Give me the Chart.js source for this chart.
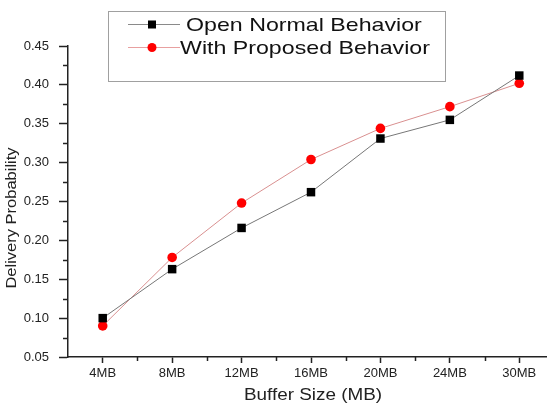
<!DOCTYPE html>
<html>
<head>
<meta charset="utf-8">
<script src="https://cdn.jsdelivr.net/npm/chart.js@4"></script>
<style>
    html, body { margin: 0; padding: 0; overflow: hidden; background: #fff; }
    canvas { display: block; }
</style>
</head>
<body>
<canvas id="deliveryChart" width="560" height="414"></canvas>
<script>
// chart values
const bufferSizes = ['4MB', '8MB', '12MB', '16MB', '20MB', '24MB', '30MB'];
const openNormal = [0.100, 0.163, 0.216, 0.262, 0.331, 0.355, 0.412];
const proposed = [0.090, 0.178, 0.248, 0.304, 0.344, 0.372, 0.402];
const seriesNames = ['Open Normal Behavior', 'With Proposed Behavior'];
const yMin = 0.05, yMax = 0.45, yStep = 0.05;
const xTitle = 'Buffer Size (MB)';
const yTitle = 'Delivery Probability';

const FONT = '"Liberation Sans", Arial, sans-serif';

// minor ticks, axis titles and the boxed legend are drawn by hand
const extrasPlugin = {
    id: 'extras',
    afterDraw(chart) {
        const ctx = chart.ctx;
        const x = chart.scales.x;
        const y = chart.scales.y;
        const area = chart.chartArea;

        ctx.save();
        ctx.strokeStyle = '#222';
        ctx.lineWidth = 1.5;
        // minor ticks on y
        for (let v = yMin + yStep / 2; v < yMax; v += yStep) {
            const py = Math.round(y.getPixelForValue(v)) + 0.5;
            ctx.beginPath();
            ctx.moveTo(area.left - 5, py);
            ctx.lineTo(area.left, py);
            ctx.stroke();
        }
        // minor ticks on x, between categories
        for (let i = 0; i <= bufferSizes.length; i++) {
            const px = Math.round(x.getPixelForValue(i - 0.5)) + 0.5;
            if (px <= area.left + 2) continue;
            ctx.beginPath();
            ctx.moveTo(px, area.bottom);
            ctx.lineTo(px, area.bottom + 4);
            ctx.stroke();
        }

        // axis titles (slightly wide lettering, as in the original)
        ctx.fillStyle = '#222';
        ctx.textAlign = 'center';
        ctx.textBaseline = 'middle';
        ctx.font = '16px ' + FONT;
        ctx.save();
        ctx.translate(313, 396);
        ctx.scale(1.18, 1);
        ctx.fillText(xTitle, 0, 0);
        ctx.restore();

        ctx.font = '15px ' + FONT;
        ctx.save();
        ctx.translate(12, 218);
        ctx.rotate(-Math.PI / 2);
        ctx.scale(1.1, 1);
        ctx.fillText(yTitle, 0, 0);
        ctx.restore();

        // legend box
        ctx.fillStyle = '#fff';
        ctx.fillRect(108, 11, 337, 70);
        ctx.strokeStyle = '#a0a0a0';
        ctx.lineWidth = 1;
        ctx.strokeRect(108.5, 11.5, 337, 70);

        const rows = [
            { y: 24.5, line: '#8a8a8a', textX: 186 },
            { y: 47.5, line: '#e8a0a0', textX: 180 }
        ];
        chart.data.datasets.forEach((ds, i) => {
            const r = rows[i];
            ctx.strokeStyle = r.line;
            ctx.lineWidth = 1;
            ctx.beginPath();
            ctx.moveTo(128, r.y);
            ctx.lineTo(180, r.y);
            ctx.stroke();
            ctx.fillStyle = ds.pointBackgroundColor;
            if (ds.pointStyle === 'rect') {
                ctx.fillRect(148, r.y - 4, 8, 8);
            } else {
                ctx.beginPath();
                ctx.arc(152, r.y, 4.5, 0, Math.PI * 2);
                ctx.fill();
            }
            ctx.fillStyle = '#111';
            ctx.textAlign = 'left';
            ctx.textBaseline = 'middle';
            ctx.font = '19px ' + FONT;
            ctx.save();
            ctx.translate(r.textX, r.y + 1);
            ctx.scale(1.22, 1);
            ctx.fillText(ds.label, 0, 0);
            ctx.restore();
        });
        ctx.restore();
    }
};

const ctx = document.getElementById('deliveryChart').getContext('2d');
new Chart(ctx, {
    type: 'line',
    data: {
        labels: bufferSizes,
        datasets: [{
            label: seriesNames[0],
            data: openNormal,
            borderColor: '#777',
            borderWidth: 1,
            pointStyle: 'rect',
            pointRadius: 6,
            pointBackgroundColor: '#000',
            pointBorderColor: '#000',
            pointBorderWidth: 0,
            tension: 0
        }, {
            label: seriesNames[1],
            data: proposed,
            borderColor: '#d99090',
            borderWidth: 1,
            pointStyle: 'circle',
            pointRadius: 4.8,
            pointBackgroundColor: '#f00',
            pointBorderColor: '#f00',
            pointBorderWidth: 0,
            tension: 0
        }]
    },
    options: {
        responsive: false,
        animation: false,
        layout: { padding: { top: 46, right: 2, left: 0, bottom: 0 } },
        plugins: {
            legend: { display: false },
            tooltip: { enabled: false }
        },
        scales: {
            x: {
                type: 'category',
                offset: true,
                afterFit: function (scale) { scale.height = 57; },
                border: { color: '#222', width: 1.5 },
                grid: { drawOnChartArea: false, tickLength: 6, tickColor: '#222', tickWidth: 1.5 },
                ticks: {
                    color: '#222',
                    padding: 3,
                    maxRotation: 0,
                    font: { family: FONT, size: 13 }
                }
            },
            y: {
                min: yMin,
                max: yMax,
                afterFit: function (scale) { scale.width = 68; },
                border: { color: '#222', width: 1.5 },
                grid: { drawOnChartArea: false, tickLength: 9, tickColor: '#222', tickWidth: 1.5 },
                ticks: {
                    stepSize: yStep,
                    color: '#222',
                    padding: 10,
                    font: { family: FONT, size: 13 },
                    callback: function (value) { return value.toFixed(2); }
                }
            }
        }
    },
    plugins: [extrasPlugin]
});
</script>
</body>
</html>
